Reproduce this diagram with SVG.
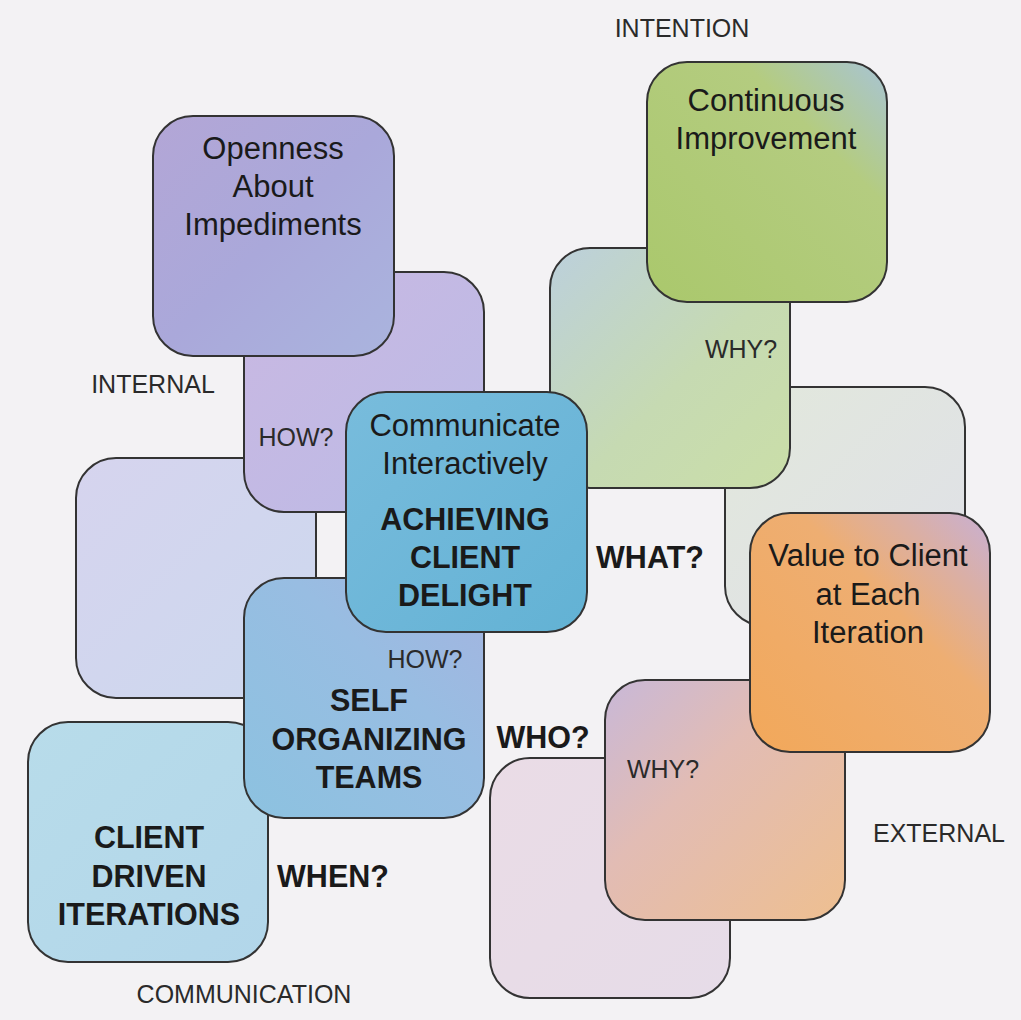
<svg xmlns="http://www.w3.org/2000/svg" width="1021" height="1020" viewBox="0 0 1021 1020">
  <style>
    .box { stroke: #333; stroke-width: 2; }
    .t { font-family: "Liberation Sans", Arial, sans-serif; fill: #1a1a1a; text-anchor: middle; }
    .main { font-size: 31px; }
    .bold { font-size: 30.5px; font-weight: bold; }
    .small { font-size: 25px; fill: #2a2a2a; }
  </style>
  <defs>
    <linearGradient id="gOpen" x1="0" y1="0" x2="1" y2="1">
      <stop offset="0" stop-color="#b3a6d6"/>
      <stop offset="0.5" stop-color="#aaa8da"/>
      <stop offset="1" stop-color="#aab4de"/>
    </linearGradient>
    <linearGradient id="gHow" x1="0" y1="0" x2="1" y2="1">
      <stop offset="0" stop-color="#c9b8e2"/>
      <stop offset="1" stop-color="#bcbbe6"/>
    </linearGradient>
    <linearGradient id="gLeft" x1="0" y1="0" x2="1" y2="1">
      <stop offset="0" stop-color="#d6d4ee"/>
      <stop offset="1" stop-color="#ccd8ee"/>
    </linearGradient>
    <linearGradient id="gComm" x1="0" y1="0" x2="1" y2="1">
      <stop offset="0" stop-color="#78bcdc"/>
      <stop offset="0.6" stop-color="#6cb6d8"/>
      <stop offset="1" stop-color="#62b2d4"/>
    </linearGradient>
    <linearGradient id="gSelf" x1="0" y1="1" x2="1" y2="0">
      <stop offset="0" stop-color="#8cc2e0"/>
      <stop offset="0.6" stop-color="#98bde2"/>
      <stop offset="1" stop-color="#a4b4e0"/>
    </linearGradient>
    <linearGradient id="gClient" x1="0" y1="0" x2="1" y2="1">
      <stop offset="0" stop-color="#b8dcea"/>
      <stop offset="1" stop-color="#b2d6ea"/>
    </linearGradient>
    <linearGradient id="gWhyUp" x1="0" y1="0" x2="1" y2="1">
      <stop offset="0" stop-color="#bcd0dc"/>
      <stop offset="0.55" stop-color="#c6dab2"/>
      <stop offset="1" stop-color="#cadea8"/>
    </linearGradient>
    <linearGradient id="gCont" x1="0" y1="1" x2="1" y2="0">
      <stop offset="0" stop-color="#aac86c"/>
      <stop offset="0.7" stop-color="#b4cc80"/>
      <stop offset="1" stop-color="#a8c4d6"/>
    </linearGradient>
    <linearGradient id="gRight" x1="0" y1="0" x2="1" y2="1">
      <stop offset="0" stop-color="#e2e8dc"/>
      <stop offset="1" stop-color="#dfe0e8"/>
    </linearGradient>
    <linearGradient id="gValue" x1="0" y1="1" x2="1" y2="0">
      <stop offset="0" stop-color="#f2a85a"/>
      <stop offset="0.6" stop-color="#eeae72"/>
      <stop offset="1" stop-color="#c8b0d4"/>
    </linearGradient>
    <linearGradient id="gWhyLow" x1="0" y1="0" x2="1" y2="1">
      <stop offset="0" stop-color="#c8b8d8"/>
      <stop offset="0.4" stop-color="#e2bcb4"/>
      <stop offset="1" stop-color="#eebf90"/>
    </linearGradient>
    <linearGradient id="gBottom" x1="0" y1="0" x2="1" y2="1">
      <stop offset="0" stop-color="#eadce6"/>
      <stop offset="1" stop-color="#e6dce8"/>
    </linearGradient>
  </defs>

  <rect width="1021" height="1020" fill="#f3f2f4"/>

  <!-- nodes, painted back to front -->
  <g id="nodes">
    <g id="internal-backdrop">
      <rect class="box" x="76" y="458" width="240" height="240" rx="40" fill="url(#gLeft)"/>
    </g>
    <g id="client-driven">
      <rect class="box" x="28" y="722" width="240" height="240" rx="40" fill="url(#gClient)"/>
      <text class="t bold" x="149" y="848">CLIENT</text>
      <text class="t bold" x="149" y="887">DRIVEN</text>
      <text class="t bold" x="149" y="925">ITERATIONS</text>
    </g>
    <g id="how-upper">
      <rect class="box" x="244" y="272" width="240" height="240" rx="40" fill="url(#gHow)"/>
    </g>
    <g id="openness">
      <rect class="box" x="153" y="116" width="241" height="240" rx="40" fill="url(#gOpen)"/>
      <text class="t main" x="273" y="159">Openness</text>
      <text class="t main" x="273" y="197">About</text>
      <text class="t main" x="273" y="235">Impediments</text>
    </g>
    <g id="self-organizing">
      <rect class="box" x="244" y="578" width="240" height="240" rx="40" fill="url(#gSelf)"/>
      <text class="t small" x="425" y="668">HOW?</text>
      <text class="t bold" x="369" y="711">SELF</text>
      <text class="t bold" x="369" y="750">ORGANIZING</text>
      <text class="t bold" x="369" y="788">TEAMS</text>
    </g>
    <g id="external-backdrop">
      <rect class="box" x="725" y="387" width="240" height="239" rx="40" fill="url(#gRight)"/>
    </g>
    <g id="why-upper">
      <rect class="box" x="550" y="248" width="240" height="240" rx="40" fill="url(#gWhyUp)"/>
      <text class="t small" x="741" y="358">WHY?</text>
    </g>
    <g id="continuous-improvement">
      <rect class="box" x="647" y="62" width="240" height="240" rx="40" fill="url(#gCont)"/>
      <text class="t main" x="766" y="111">Continuous</text>
      <text class="t main" x="766" y="149">Improvement</text>
    </g>
    <g id="bottom-backdrop">
      <rect class="box" x="490" y="758" width="240" height="240" rx="40" fill="url(#gBottom)"/>
    </g>
    <g id="why-lower">
      <rect class="box" x="605" y="680" width="240" height="240" rx="40" fill="url(#gWhyLow)"/>
      <text class="t small" x="663" y="778">WHY?</text>
    </g>
    <g id="value-to-client">
      <rect class="box" x="750" y="513" width="240" height="239" rx="40" fill="url(#gValue)"/>
      <text class="t main" x="868" y="566">Value to Client</text>
      <text class="t main" x="868" y="605">at Each</text>
      <text class="t main" x="868" y="643">Iteration</text>
    </g>
    <g id="client-delight">
      <rect class="box" x="346" y="392" width="241" height="240" rx="40" fill="url(#gComm)"/>
      <text class="t main" x="465" y="436">Communicate</text>
      <text class="t main" x="465" y="474">Interactively</text>
      <text class="t bold" x="465" y="530">ACHIEVING</text>
      <text class="t bold" x="465" y="568">CLIENT</text>
      <text class="t bold" x="465" y="606">DELIGHT</text>
    </g>
  </g>

  <!-- no connectors are drawn; the boxes interlock directly -->
  <g id="connectors"/>

  <!-- axis and question labels -->
  <g id="labels">
    <text class="t small" x="153" y="393">INTERNAL</text>
    <text class="t small" x="296" y="446">HOW?</text>
    <text class="t small" x="682" y="37">INTENTION</text>
    <text class="t small" x="939" y="842">EXTERNAL</text>
    <text class="t small" x="244" y="1003">COMMUNICATION</text>
    <text class="t bold" x="650" y="568">WHAT?</text>
    <text class="t bold" x="543" y="748">WHO?</text>
    <text class="t bold" x="333" y="887">WHEN?</text>
  </g>
</svg>
